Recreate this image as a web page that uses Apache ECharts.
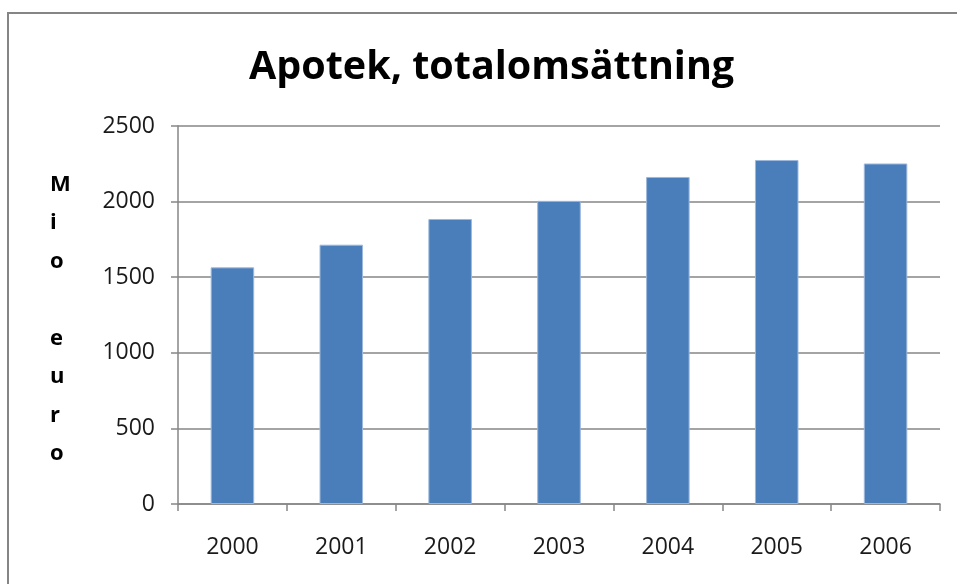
<!DOCTYPE html>
<html><head><meta charset="utf-8">
<script src="https://cdn.jsdelivr.net/npm/echarts@6/dist/echarts.min.js"></script>
<style>html,body{margin:0;padding:0;background:#fff}#c{width:957px;height:584px}</style>
</head><body><div id="c"></div>
<script>
const categories = ['2000','2001','2002','2003','2004','2005','2006'];
const values = [1565, 1715, 1885, 2005, 2163, 2275, 2252];
const yTicks = [0, 500, 1000, 1500, 2000, 2500];
const titleText = 'Apotek, totalomsättning';
const yName = 'M\ni\no\n\ne\nu\nr\no';

const chart = echarts.init(document.getElementById('c'), null, {renderer:'canvas'});
const font = 'Open Sans, sans-serif';
chart.setOption({
  animation: false,
  backgroundColor: '#fff',
  title: { text: titleText, left: 244, top: 43,
    textStyle: { fontFamily: font, fontWeight: 'bold', fontSize: 39.5, color: '#000' } },
  graphic: [
    { type: 'rect', shape: { x: 8, y: 13, width: 1000, height: 700 },
      style: { fill: 'none', stroke: '#858585', lineWidth: 2 } },
    { type: 'text', left: 50, top: 165, style: { text: yName, fontFamily: font, fontWeight: 'bold',
      fontSize: 22, lineHeight: 38.5, fill: '#000', align: 'center' } }
  ],
  grid: { left: 178, right: 17, top: 126, bottom: 80 },
  xAxis: { type: 'category', data: categories,
    axisLine: { lineStyle: { color: '#868686', width: 1.5 } },
    axisTick: { show: true, length: 7, lineStyle: { color: '#868686', width: 1.5 } },
    axisLabel: { margin: 32, fontFamily: font, fontSize: 23, color: '#1a1a1a' } },
  yAxis: { type: 'value', min: yTicks[0], max: yTicks[yTicks.length-1], interval: yTicks[1]-yTicks[0],
    axisLine: { show: true, lineStyle: { color: '#868686', width: 1.5 } },
    axisTick: { show: true, length: 7, lineStyle: { color: '#868686', width: 1.5 } },
    splitLine: { lineStyle: { color: '#868686', width: 1.5 } },
    axisLabel: { margin: 23, fontFamily: font, fontSize: 23, color: '#1a1a1a',
      formatter: v => String(v) } },
  series: [{ type: 'bar', data: values, barWidth: '40%',
    itemStyle: { color: '#4A7EBB', borderColor: '#9DB8DC', borderWidth: 1 } }]
});
</script></body></html>
